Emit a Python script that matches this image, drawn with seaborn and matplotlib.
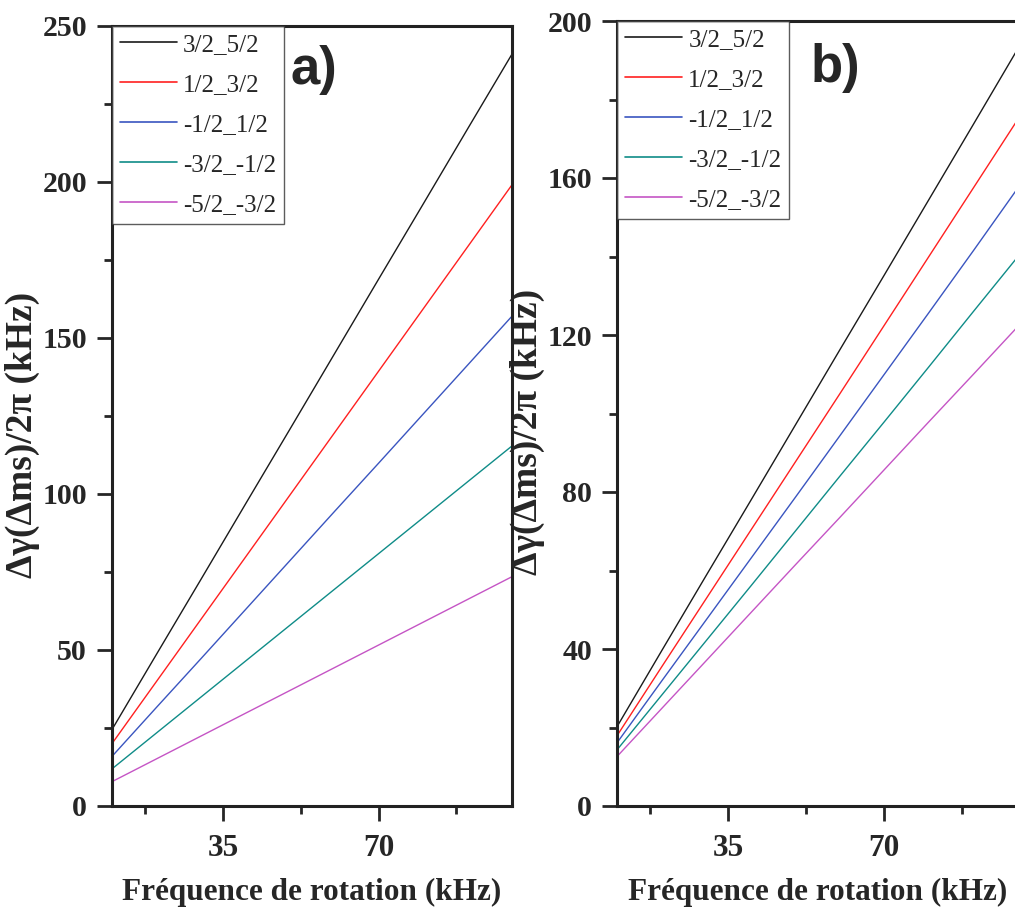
import matplotlib
matplotlib.use("Agg")
import matplotlib.pyplot as plt
from matplotlib.ticker import MultipleLocator
import seaborn as sns
import pandas as pd

# ---------------- data ----------------
freq = [10, 20, 30, 40, 50, 60, 70, 80, 90, 100]
labels = ["3/2_5/2", "1/2_3/2", "-1/2_1/2", "-3/2_-1/2", "-5/2_-3/2"]

a_32_52 = [24.5, 48.6, 72.6, 96.7, 120.7, 144.8, 168.9, 192.9, 217, 241]
a_12_32 = [20, 39.9, 59.8, 79.7, 99.6, 119.5, 139.4, 159.3, 179.2, 199.1]
a_m12_12 = [15.9, 31.6, 47.2, 62.9, 78.6, 94.3, 109.9, 125.6, 141.3, 157]
a_m32_m12 = [11.9, 23.4, 34.9, 46.4, 57.9, 69.4, 80.9, 92.4, 103.9, 115.4]
a_m52_m32 = [7.8, 15.1, 22.4, 29.7, 37, 44.3, 51.6, 58.9, 66.2, 73.5]

b_32_52 = [20.2, 39.5, 58.7, 77.8, 97, 116.2, 135.3, 154.5, 173.7, 193]
b_12_32 = [17.9, 35.4, 52.8, 70.2, 87.6, 105, 122.5, 140, 157.5, 175]
b_m12_12 = [16.1, 31.8, 47.4, 63, 78.6, 94.3, 110, 125.7, 141.5, 157.5]
b_m32_m12 = [14.3, 28.2, 42.1, 56, 70, 84, 97.9, 111.9, 126, 140]
b_m52_m32 = [12.6, 24.8, 37, 49.2, 61.4, 73.5, 85.7, 97.9, 110, 122.2]

colors = ["#1a1a1a", "#ff2020", "#3a55c0", "#0f8c88", "#c555c5"]

def long_df(series):
    rows = []
    for lab, vals in zip(labels, series):
        for x, y in zip(freq, vals):
            rows.append({"freq": x, "val": y, "trans": lab})
    return pd.DataFrame(rows)

df_a = long_df([a_32_52, a_12_32, a_m12_12, a_m32_m12, a_m52_m32])
df_b = long_df([b_32_52, b_12_32, b_m12_12, b_m32_m12, b_m52_m32])

# ---------------- style ----------------
sns.set_style("ticks")
plt.rcParams["font.family"] = ["Liberation Serif", "DejaVu Serif"]

fig = plt.figure(figsize=(10.15, 9.23), dpi=100)
W, H = 1015.0, 923.0
ax_a = fig.add_axes([112 / W, (H - 806) / H, 400 / W, 780 / H])
ax_b = fig.add_axes([617 / W, (H - 806) / H, 401 / W, 785 / H])

palette = dict(zip(labels, colors))

for ax, df, ymax, ymaj, letter, lx, ly in [
    (ax_a, df_a, 250, 50, "a)", 0.445, 0.944),
    (ax_b, df_b, 200, 40, "b)", 0.483, 0.94),
]:
    sns.lineplot(data=df, x="freq", y="val", hue="trans", hue_order=labels,
                 palette=palette, ax=ax, linewidth=1.0, legend=True)
    ax.set_xlim(10, 100)
    ax.set_ylim(0, ymax)
    ax.xaxis.set_major_locator(MultipleLocator(35))
    ax.xaxis.set_minor_locator(MultipleLocator(17.5))
    ax.yaxis.set_major_locator(MultipleLocator(ymaj))
    ax.yaxis.set_minor_locator(MultipleLocator(ymaj / 2))
    ax.tick_params(axis="both", which="major", direction="out", length=11,
                   width=2.0, labelsize=21.5, pad=7)
    ax.tick_params(axis="both", which="minor", direction="out", length=6,
                   width=2.0)
    ax.tick_params(axis="x", which="major", pad=9, labelsize=22.5)
    ax.tick_params(top=False, right=False, which="both")
    for lab in ax.get_xticklabels() + ax.get_yticklabels():
        lab.set_fontweight("bold")
    for sp in ax.spines.values():
        sp.set_linewidth(2.2)
        sp.set_color("#222222")
        sp.set_visible(True)
    ax.set_xlabel("Fréquence de rotation (kHz)", fontsize=22.5,
                  fontweight="bold", labelpad=11)
    ax.set_ylabel("Δγ(Δms)/2π (kHz)", fontsize=27, fontweight="bold")
    ax.yaxis.set_label_coords(-0.180, 0.476)
    ax.text(lx, ly, letter, transform=ax.transAxes, fontsize=38,
            fontweight="bold", family="Liberation Sans", ha="left", va="center")
    leg = ax.legend(loc="upper left", frameon=True, fontsize=18,
                    handlelength=2.3, handletextpad=0.25, labelspacing=0.70,
                    borderpad=0.3, borderaxespad=0.0, fancybox=False)
    leg.get_frame().set_edgecolor("#333333")
    leg.get_frame().set_linewidth(1.0)
    for h in leg.get_lines():
        h.set_linewidth(1.2)

fig.savefig("out.png", dpi=100)
